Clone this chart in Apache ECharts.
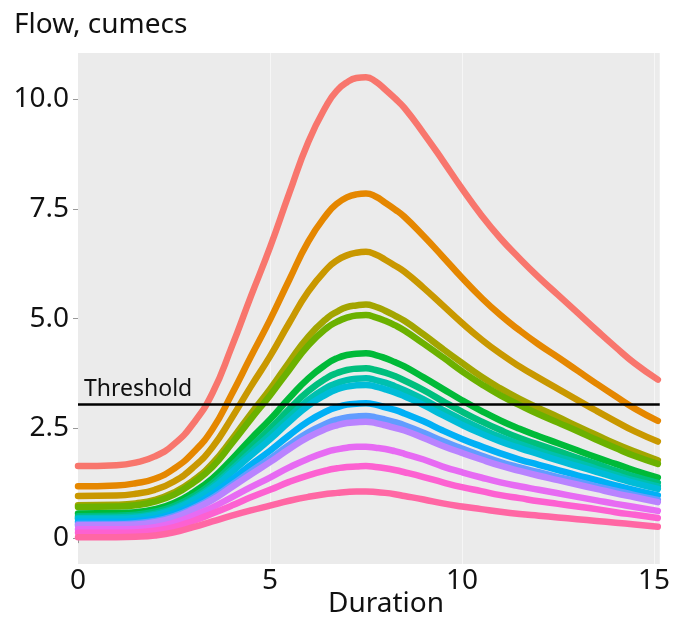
<!DOCTYPE html>
<html>
<head>
<meta charset="utf-8">
<script src="https://cdn.jsdelivr.net/npm/echarts@6/dist/echarts.min.js"></script>
<style>
  html, body { margin: 0; padding: 0; background: #fff; }
  #chart { width: 673px; height: 621px; }
</style>
</head>
<body>
<div id="chart"></div>
<script>
// durations (x) shared by every run
const durations = [0, 1, 1.5, 2, 2.5, 3, 3.5, 4, 4.5, 5, 5.5, 6, 6.5, 6.75, 7, 7.25, 7.5, 7.75, 8, 8.25, 8.5,
                   9, 9.5, 10, 10.5, 11, 11.5, 12, 12.5, 13, 13.5, 14, 14.5, 15.1];

// flow per run, cumecs
const q01 = [1.64, 1.66, 1.72, 1.86, 2.14, 2.61, 3.30, 4.35, 5.50, 6.62, 7.85, 9.03, 9.90, 10.20, 10.38, 10.48, 10.50, 10.40, 10.22, 10.02, 9.80, 9.22, 8.60, 7.96, 7.36, 6.83, 6.37, 5.94, 5.54, 5.14, 4.74, 4.35, 3.98, 3.61];
const q02 = [1.18, 1.20, 1.25, 1.35, 1.58, 1.95, 2.48, 3.27, 4.13, 4.97, 5.88, 6.76, 7.40, 7.62, 7.76, 7.83, 7.85, 7.78, 7.64, 7.49, 7.32, 6.88, 6.41, 5.93, 5.48, 5.08, 4.73, 4.41, 4.12, 3.82, 3.52, 3.23, 2.95, 2.67];
const q03 = [0.96, 0.97, 1.01, 1.10, 1.29, 1.61, 2.07, 2.73, 3.45, 4.14, 4.90, 5.62, 6.15, 6.33, 6.44, 6.50, 6.52, 6.46, 6.34, 6.21, 6.07, 5.70, 5.30, 4.90, 4.53, 4.20, 3.91, 3.65, 3.40, 3.15, 2.90, 2.66, 2.43, 2.20];
const q04 = [0.75, 0.76, 0.79, 0.87, 1.04, 1.31, 1.70, 2.24, 2.83, 3.39, 4.01, 4.59, 5.02, 5.16, 5.26, 5.30, 5.32, 5.27, 5.18, 5.07, 4.95, 4.64, 4.31, 3.99, 3.68, 3.41, 3.17, 2.96, 2.76, 2.55, 2.35, 2.15, 1.97, 1.77];
const q05 = [0.71, 0.72, 0.75, 0.83, 0.99, 1.26, 1.62, 2.15, 2.71, 3.25, 3.83, 4.39, 4.80, 4.93, 5.02, 5.07, 5.08, 5.03, 4.95, 4.85, 4.73, 4.43, 4.12, 3.80, 3.51, 3.25, 3.03, 2.82, 2.63, 2.44, 2.24, 2.05, 1.87, 1.69];
const q06 = [0.56, 0.57, 0.59, 0.66, 0.80, 1.04, 1.36, 1.79, 2.26, 2.70, 3.19, 3.64, 3.98, 4.10, 4.17, 4.20, 4.21, 4.17, 4.10, 4.01, 3.91, 3.66, 3.40, 3.14, 2.90, 2.68, 2.49, 2.32, 2.16, 2.00, 1.84, 1.69, 1.54, 1.38];
const q07 = [0.50, 0.51, 0.53, 0.60, 0.73, 0.95, 1.25, 1.65, 2.08, 2.49, 2.94, 3.35, 3.66, 3.76, 3.83, 3.86, 3.87, 3.83, 3.77, 3.69, 3.59, 3.37, 3.12, 2.88, 2.66, 2.46, 2.28, 2.13, 1.98, 1.83, 1.69, 1.54, 1.40, 1.26];
const q08 = [0.46, 0.47, 0.49, 0.55, 0.68, 0.89, 1.18, 1.56, 1.96, 2.35, 2.76, 3.15, 3.44, 3.53, 3.60, 3.63, 3.64, 3.60, 3.54, 3.46, 3.37, 3.16, 2.92, 2.70, 2.49, 2.30, 2.14, 1.99, 1.85, 1.72, 1.58, 1.44, 1.31, 1.18];
const q09 = [0.44, 0.44, 0.46, 0.52, 0.65, 0.86, 1.13, 1.50, 1.88, 2.25, 2.65, 3.02, 3.29, 3.39, 3.45, 3.48, 3.49, 3.45, 3.39, 3.32, 3.23, 3.03, 2.80, 2.58, 2.38, 2.20, 2.05, 1.91, 1.77, 1.64, 1.51, 1.38, 1.25, 1.12];
const q10 = [0.37, 0.37, 0.39, 0.44, 0.56, 0.75, 1.00, 1.33, 1.67, 1.99, 2.34, 2.66, 2.90, 2.98, 3.04, 3.06, 3.07, 3.04, 2.98, 2.92, 2.84, 2.66, 2.45, 2.26, 2.09, 1.93, 1.79, 1.67, 1.55, 1.43, 1.32, 1.20, 1.09, 0.97];
const q11 = [0.32, 0.32, 0.34, 0.39, 0.50, 0.68, 0.91, 1.21, 1.52, 1.81, 2.12, 2.41, 2.62, 2.70, 2.75, 2.77, 2.78, 2.75, 2.70, 2.64, 2.57, 2.40, 2.21, 2.04, 1.88, 1.73, 1.61, 1.50, 1.39, 1.29, 1.18, 1.08, 0.98, 0.87];
const q12 = [0.29, 0.30, 0.31, 0.36, 0.47, 0.65, 0.87, 1.16, 1.45, 1.73, 2.03, 2.30, 2.50, 2.57, 2.62, 2.64, 2.65, 2.62, 2.57, 2.51, 2.45, 2.28, 2.10, 1.94, 1.79, 1.65, 1.53, 1.42, 1.32, 1.22, 1.12, 1.02, 0.93, 0.82];
const q13 = [0.20, 0.20, 0.21, 0.25, 0.35, 0.51, 0.70, 0.93, 1.16, 1.38, 1.61, 1.81, 1.97, 2.02, 2.06, 2.08, 2.08, 2.06, 2.03, 1.98, 1.92, 1.79, 1.63, 1.50, 1.38, 1.27, 1.18, 1.10, 1.02, 0.94, 0.86, 0.78, 0.71, 0.62];
const q14 = [0.12, 0.12, 0.13, 0.17, 0.25, 0.39, 0.56, 0.74, 0.93, 1.10, 1.28, 1.43, 1.55, 1.59, 1.62, 1.63, 1.64, 1.62, 1.59, 1.55, 1.50, 1.39, 1.27, 1.16, 1.07, 0.98, 0.91, 0.84, 0.78, 0.72, 0.66, 0.59, 0.53, 0.46];
const q15 = [0.02, 0.02, 0.03, 0.06, 0.13, 0.25, 0.38, 0.51, 0.63, 0.74, 0.85, 0.94, 1.01, 1.03, 1.05, 1.06, 1.06, 1.05, 1.03, 1.00, 0.96, 0.88, 0.79, 0.72, 0.66, 0.60, 0.55, 0.51, 0.47, 0.43, 0.39, 0.35, 0.31, 0.26];

const threshold = 3.05;
const xTicks = [0, 5, 10, 15];
const yTicks = [0, 2.5, 5, 7.5, 10];

const runs = [q01, q02, q03, q04, q05, q06, q07, q08, q09, q10, q11, q12, q13, q14, q15];
const colors = ['#F8766D', '#E58700', '#C99800', '#A3A500', '#6BB100', '#00BA38', '#00BF7D', '#00C0AF',
                '#00BCD8', '#00B0F6', '#619CFF', '#B983FF', '#E76BF3', '#FD61D1', '#FF67A4'];

const font = 'Noto Sans';

const series = runs.map(function (q, i) {
    return {
        type: 'line',
        data: durations.map(function (d, j) { return [d, q[j]]; }),
        smooth: 0.5,
        showSymbol: false,
        silent: true,
        lineStyle: { width: 6.5, color: colors[i], cap: 'round', join: 'round' },
        itemStyle: { color: colors[i] }
    };
});

// faint vertical grid lines, under the runs
series[0].markLine = {
    silent: true,
    z: 1,
    symbol: 'none',
    label: { show: false },
    lineStyle: { color: '#F6F6F6', width: 1, type: 'solid' },
    data: xTicks.slice(1).map(function (v) { return { xAxis: v }; })
};

// threshold on top
series[series.length - 1].markLine = {
    silent: true,
    z: 10,
    symbol: 'none',
    lineStyle: { color: '#000', width: 2.5, type: 'solid' },
    label: {
        show: true,
        position: 'insideStartTop',
        formatter: 'Threshold',
        fontFamily: font,
        fontSize: 23,
        color: '#111',
        distance: [6, 3]
    },
    data: [{ yAxis: threshold }]
};

const chart = echarts.init(document.getElementById('chart'));
chart.setOption({
    animation: false,
    textStyle: { fontFamily: font },
    title: {
        text: 'Flow, cumecs',
        left: 9,
        top: 6,
        textStyle: { fontFamily: font, fontSize: 28, fontWeight: 'normal', color: '#111' }
    },
    grid: {
        left: 78, right: 7, top: 53, bottom: 57,
        show: true, backgroundColor: '#EBEBEB', borderWidth: 0
    },
    xAxis: {
        type: 'value',
        min: 0,
        max: 15.15,
        axisLine: { show: false },
        axisTick: { show: true, length: 5, lineStyle: { color: '#999' }, customValues: xTicks },
        axisLabel: { customValues: xTicks, fontSize: 28, color: '#111', margin: 3 },
        splitLine: { show: false }
    },
    yAxis: {
        type: 'value',
        min: -0.59,
        max: 11.05,
        axisLine: { show: false },
        axisTick: { show: true, length: 5, lineStyle: { color: '#999' }, customValues: yTicks },
        axisLabel: {
            customValues: yTicks, fontSize: 28, color: '#111', margin: 9,
            formatter: function (v) { return v === 0 ? '0' : v.toFixed(1); }
        },
        splitLine: { show: false }
    },
    graphic: [{
        type: 'text',
        left: 328,
        top: 590,
        style: { text: 'Duration', fontFamily: font, fontSize: 28, fill: '#111' }
    }],
    series: series
});
</script>
</body>
</html>
